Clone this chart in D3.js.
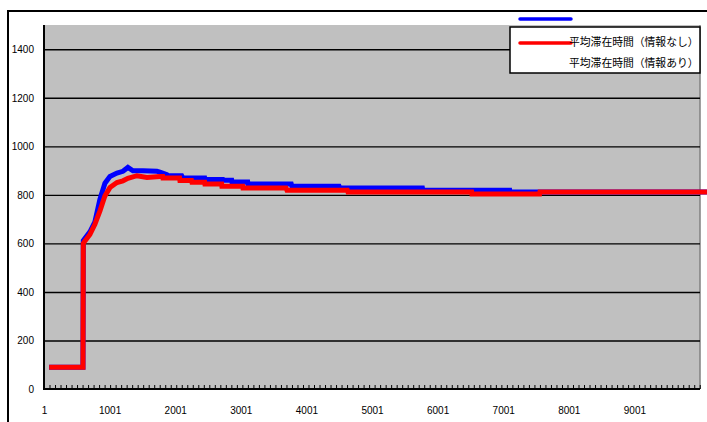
<!DOCTYPE html>
<html><head><meta charset="utf-8">
<script src="https://cdnjs.cloudflare.com/ajax/libs/d3/7.8.5/d3.min.js"></script>
<style>
html,body{margin:0;padding:0;background:#fff;}
svg{display:block;}
</style></head>
<body><svg id="c" width="707" height="422"></svg>
<script>
// ---- data ----
const yTicks = [0, 200, 400, 600, 800, 1000, 1200, 1400];
const xTickLabels = [1, 1001, 2001, 3001, 4001, 5001, 6001, 7001, 8001, 9001];
const seriesNames = ["平均滞在時間（情報なし）", "平均滞在時間（情報あり）"];

// blue: 情報なし
const blueCats = [80, 595, 600, 701, 777, 854, 930, 1006, 1113, 1204, 1280, 1357, 1509, 1723, 1768, 1875,
  1890, 2100, 2119, 2450, 2454, 2725, 2729, 2862, 2866, 3106, 3110, 3770, 3780, 4500, 4512, 5770, 5777,
  7100, 7104, 10107];
const blueVals = [90, 90, 612, 648, 689, 782, 848, 876, 890, 897, 913, 899, 899, 897, 894, 883,
  879, 879, 869, 869, 863, 863, 860, 860, 853, 853, 845, 845, 835, 835, 828, 828, 819,
  819, 812, 812];

// red: 情報あり
const redCats = [80, 595, 600, 625, 701, 777, 854, 930, 1006, 1113, 1204, 1280, 1418, 1570, 1768, 1810,
  1814, 2068, 2073, 2250, 2256, 2450, 2454, 2709, 2713, 3030, 3034, 3690, 3704, 4625, 4634, 6520, 6524,
  7556, 7561, 10107];
const redVals = [90, 90, 600, 610, 637, 679, 734, 796, 830, 851, 858, 868, 879, 872, 876, 876,
  869, 869, 859, 859, 852, 852, 845, 845, 835, 835, 828, 828, 819, 819, 812, 812, 804,
  804, 812, 812];

// ---- layout ----
const svg = d3.select("#c");
const L = 44, R = 700, T = 25, B = 389;
const FONT = "'Liberation Sans', Arial, sans-serif";

// outer frame
svg.append("rect").attr("x", 8).attr("y", 11).attr("width", 720).attr("height", 430)
  .attr("fill", "#fff").attr("stroke", "#000").attr("stroke-width", 2);

const x = d3.scaleLinear().domain([1, 10001]).range([L, R]);
const y = d3.scaleLinear().domain([0, 1500]).range([B, T]);

// plot background
svg.append("rect").attr("x", L).attr("y", T).attr("width", R - L).attr("height", B - T)
  .attr("fill", "#c0c0c0");
svg.append("line").attr("x1", R).attr("x2", R).attr("y1", T).attr("y2", B)
  .attr("stroke", "#808080").attr("stroke-width", 1.5);

// gridlines
const grid = svg.append("g").attr("transform", `translate(${L},0)`)
  .call(d3.axisLeft(y).tickValues(yTicks.slice(1)).tickSize(-(R - L)).tickFormat(""));
grid.select(".domain").remove();
grid.selectAll("line").attr("stroke", "#000").attr("stroke-width", 1.4);

// y labels
const ya = svg.append("g").attr("transform", `translate(${L},0)`)
  .call(d3.axisLeft(y).tickValues(yTicks).tickSize(0).tickPadding(10).tickFormat(d3.format("d")));
ya.attr("font-family", FONT).attr("font-size", 10);
ya.select(".domain").remove();

// x minor ticks (pointing up)
const xt = svg.append("g").attr("transform", `translate(0,${B})`)
  .call(d3.axisBottom(x).tickValues(d3.range(1, 10001, 84)).tickSize(-4).tickFormat(""));
xt.select(".domain").remove();
xt.selectAll("line").attr("stroke", "#000").attr("stroke-width", 1);

// x labels
const xa = svg.append("g").attr("transform", `translate(0,${B})`)
  .call(d3.axisBottom(x).tickValues(xTickLabels).tickSize(0).tickPadding(18).tickFormat(d3.format("d")));
xa.attr("font-family", FONT).attr("font-size", 10);
xa.select(".domain").remove();

// axis lines
svg.append("line").attr("x1", L).attr("x2", L).attr("y1", T).attr("y2", B + 1)
  .attr("stroke", "#000").attr("stroke-width", 2);
svg.append("line").attr("x1", L - 1).attr("x2", R).attr("y1", B).attr("y2", B)
  .attr("stroke", "#000").attr("stroke-width", 2);

// series
const line = d3.line().x(d => x(d[0])).y(d => y(d[1]));
const blueData = blueCats.map((c, i) => [c, blueVals[i]]);
const redData = redCats.map((c, i) => [c, redVals[i]]);
svg.append("path").attr("d", line(blueData)).attr("fill", "none")
  .attr("stroke", "#0000ff").attr("stroke-width", 5).attr("stroke-linejoin", "miter");
svg.append("path").attr("d", line(redData)).attr("fill", "none")
  .attr("stroke", "#ff0000").attr("stroke-width", 5).attr("stroke-linejoin", "miter");

// legend
svg.append("rect").attr("x", 510).attr("y", 27).attr("width", 190).attr("height", 46)
  .attr("fill", "#fff").attr("stroke", "#000").attr("stroke-width", 1.5);
svg.append("line").attr("x1", 520).attr("x2", 571).attr("y1", 19).attr("y2", 19)
  .attr("stroke", "#0000ff").attr("stroke-width", 3.5).attr("stroke-linecap", "round");
svg.append("line").attr("x1", 520).attr("x2", 571).attr("y1", 43).attr("y2", 43)
  .attr("stroke", "#ff0000").attr("stroke-width", 3.5).attr("stroke-linecap", "round");
svg.selectAll("text.lg").data(seriesNames).enter().append("text").attr("class", "lg")
  .attr("x", 569).attr("y", (d, i) => 46 + i * 21)
  .attr("font-family", "'Noto Sans CJK JP', sans-serif").attr("font-size", 10.8)
  .attr("fill", "#000").text(d => d);
</script></body></html>
